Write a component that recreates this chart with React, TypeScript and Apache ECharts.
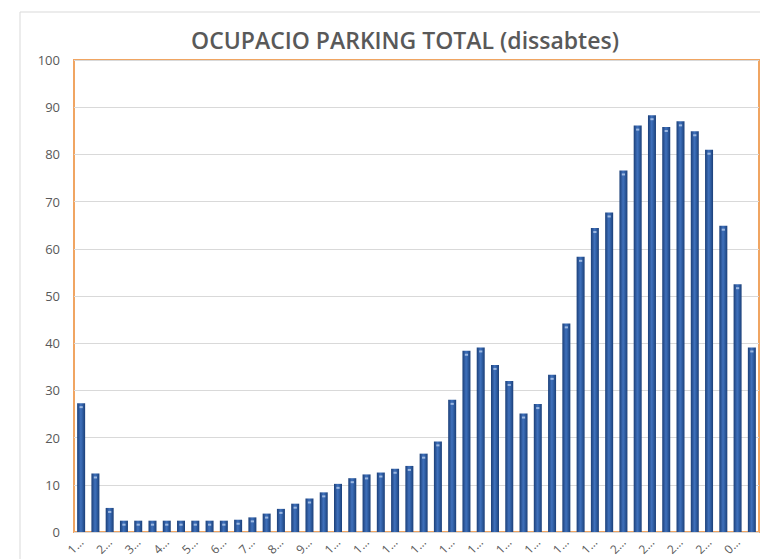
import React, { useEffect, useRef } from "react";
import * as echarts from "echarts";

// Half-hour slots on Saturday, starting at 1:00
const categories = [
  "1:00", "1:30", "2:00", "2:30", "3:00", "3:30", "4:00", "4:30",
  "5:00", "5:30", "6:00", "6:30", "7:00", "7:30", "8:00", "8:30",
  "9:00", "9:30", "10:00", "10:30", "11:00", "11:30", "12:00", "12:30",
  "13:00", "13:30", "14:00", "14:30", "15:00", "15:30", "16:00", "16:30",
  "17:00", "17:30", "18:00", "18:30", "19:00", "19:30", "20:00", "20:30",
  "21:00", "21:30", "22:00", "22:30", "23:00", "23:30", "0:00", "0:30",
];

// Total parking occupancy (%)
const occupancy = [
  27.3, 12.4, 5.1, 2.4, 2.4, 2.4, 2.4, 2.4,
  2.4, 2.4, 2.4, 2.6, 3.1, 3.9, 4.9, 6.0,
  7.1, 8.4, 10.2, 11.4, 12.2, 12.6, 13.4, 14.0,
  16.6, 19.2, 28.0, 38.4, 39.1, 35.4, 32.0, 25.1,
  27.1, 33.3, 44.2, 58.3, 64.4, 67.7, 76.6, 86.1,
  88.3, 85.8, 87.0, 84.9, 81.0, 64.9, 52.5, 39.1,
];

const yMin = 0;
const yMax = 100;
const yStep = 10;

const TITLE = "OCUPACIO PARKING TOTAL (dissabtes)";
const TEXT_GREY = "#595959";
const FONT = "'Open Sans', 'Noto Sans', sans-serif";

export default function App() {
  const ref = useRef<HTMLDivElement>(null);

  useEffect(() => {
    if (!ref.current) return;
    const chart = echarts.init(ref.current, null, { renderer: "svg" });

    const barFill = new echarts.graphic.LinearGradient(0, 0, 1, 0, [
      { offset: 0, color: "#1b3f78" },
      { offset: 0.45, color: "#3f70bb" },
      { offset: 0.6, color: "#3566ae" },
      { offset: 1, color: "#1b3f78" },
    ]);

    chart.setOption({
      animation: false,
      backgroundColor: "#ffffff",
      textStyle: { color: TEXT_GREY, fontFamily: FONT },
      graphic: [
        {
          type: "rect",
          shape: { x: 20, y: 12, width: 900, height: 700 },
          style: { fill: "none", stroke: "#d9d9d9", lineWidth: 1 },
          silent: true,
          z: -1,
        },
        {
          type: "text",
          x: 405,
          y: 40,
          style: {
            text: TITLE,
            align: "center",
            verticalAlign: "middle",
            fontFamily: FONT,
            fontWeight: 600,
            fontSize: 23,
            fill: TEXT_GREY,
          },
        },
      ],
      grid: {
        left: 74,
        right: 1,
        top: 60,
        bottom: 27,
        show: true,
        borderColor: "#f0a562",
        borderWidth: 2,
        backgroundColor: "transparent",
      },
      xAxis: {
        type: "category",
        data: categories,
        axisLine: { show: false },
        axisTick: { show: false },
        axisLabel: {
          interval: 1,
          rotate: 45,
          margin: 8,
          color: TEXT_GREY,
          fontFamily: FONT,
          fontSize: 12,
          formatter: (v: string) => v.charAt(0) + "\u2026",
        },
      },
      yAxis: {
        type: "value",
        min: yMin,
        max: yMax,
        interval: yStep,
        axisLine: { show: false },
        axisTick: { show: false },
        splitLine: { lineStyle: { color: "#d9d9d9", width: 1 } },
        axisLabel: {
          color: TEXT_GREY,
          fontFamily: FONT,
          fontSize: 13,
          margin: 14,
        },
      },
      series: [
        {
          type: "bar",
          data: occupancy,
          barWidth: 8,
          itemStyle: { color: barFill },
        },
        {
          type: "pictorialBar",
          data: occupancy,
          symbol: "rect",
          symbolSize: [3, 2],
          symbolPosition: "end",
          symbolOffset: [0, 3],
          itemStyle: { color: "#9db9e2" },
          z: 3,
          silent: true,
        },
      ],
    });

    return () => chart.dispose();
  }, []);

  return (
    <div
      ref={ref}
      style={{ position: "absolute", left: 0, top: 0, width: 760, height: 559 }}
    />
  );
}
